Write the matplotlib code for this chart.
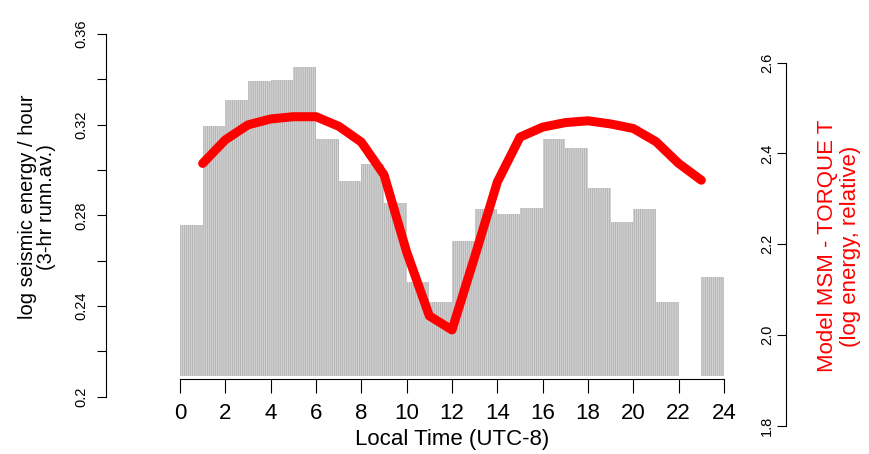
import numpy as np
import matplotlib
matplotlib.use("Agg")
import matplotlib.pyplot as plt
from matplotlib.ticker import FixedLocator

plt.rcParams['font.family'] = ['Liberation Sans', 'DejaVu Sans']
plt.rcParams['hatch.linewidth'] = 0.5
plt.rcParams['hatch.color'] = '#ababab'

# hourly seismic energy (3-hr running average), one bin per hour, 22-23 missing
hour_bins = np.arange(24)
energy = [0.2757, 0.3194, 0.3309, 0.3393, 0.3397, 0.3456, 0.3137, 0.2951,
          0.3026, 0.2853, 0.2507, 0.2418, 0.2687, 0.2827, 0.2806, 0.2832,
          0.3137, 0.3097, 0.2921, 0.2771, 0.2828, 0.2418, np.nan, 0.2528]

# modelled MSM torque (log energy, relative), hours 1..23
model_hours = np.arange(1, 24)
torque = [2.378, 2.430, 2.463, 2.476, 2.481, 2.481, 2.460, 2.425, 2.353,
          2.183, 2.042, 2.011, 2.172, 2.337, 2.436, 2.458, 2.468, 2.472,
          2.465, 2.455, 2.426, 2.378, 2.341]

x_ticks = np.arange(0, 25, 2)
left_ticks = [0.2, 0.24, 0.28, 0.32, 0.36]
left_labels = ['0.2', '0.24', '0.28', '0.32', '0.36']
right_ticks = [1.8, 2.0, 2.2, 2.4, 2.6]
right_labels = ['1.8', '2.0', '2.2', '2.4', '2.6']

W, H = 870, 454
BAR_BASE = 0.2091


def box(left, top, right, bottom):
    return [left / W, 1 - bottom / H, (right - left) / W, (bottom - top) / H]


fig = plt.figure(figsize=(W / 100, H / 100), dpi=100)

# --- bars on the left-hand scale ---
ax = fig.add_axes(box(180, 34, 724, 396.7))
ax.bar(hour_bins, np.array(energy) - BAR_BASE, bottom=BAR_BASE, width=1.0,
       align='edge', color='#d2d2d2', hatch='||||||||', linewidth=0)
ax.set_xlim(0, 24)
ax.set_ylim(0.2, 0.36)
ax.patch.set_visible(False)
for s in ('top', 'right'):
    ax.spines[s].set_visible(False)
ax.spines['left'].set_position(('outward', 53.3))
ax.spines['left'].set_bounds(0.2, 0.36)
ax.spines['bottom'].set_position(('outward', -12.7))
ax.spines['bottom'].set_bounds(0, 24)
for s in ('left', 'bottom'):
    ax.spines[s].set_linewidth(0.8)

ax.set_yticks(left_ticks)
ax.set_yticklabels(left_labels)
ax.yaxis.set_minor_locator(FixedLocator([0.22, 0.26, 0.30, 0.34]))
ax.tick_params(axis='y', which='both', length=6.7, width=0.8, labelsize=10.5, pad=6)
plt.setp(ax.get_yticklabels(), rotation=90, va='center')

ax.set_xticks(x_ticks)
ax.set_xticklabels([str(t) for t in x_ticks])
ax.tick_params(axis='x', length=10, width=0.8, labelsize=16, pad=7)

fig.text(37 / W, 1 - 207 / H, 'log seismic energy / hour\n(3-hr runn.av.)',
         rotation=90, ha='center', va='center', fontsize=14.5,
         multialignment='center', linespacing=1.05)
fig.text((180 + 724) / 2 / W, 1 - 440 / H, 'Local Time (UTC-8)',
         ha='center', va='center', fontsize=16)

# --- model curve on the right-hand scale ---
ax2 = fig.add_axes(box(180, 62.7, 724, 425.7))
ax2.patch.set_visible(False)
ax2.plot(model_hours, torque, color='red', linewidth=6.5,
         solid_capstyle='round', solid_joinstyle='round')
ax2.set_xlim(0, 24)
ax2.set_ylim(1.8, 2.6)
ax2.set_xticks([])
for s in ('top', 'right', 'bottom'):
    ax2.spines[s].set_visible(False)
ax2.spines['left'].set_position(('axes', (785.7 - 180) / 544))
ax2.spines['left'].set_linewidth(0.8)
ax2.set_yticks(right_ticks)
ax2.set_yticklabels(right_labels)
ax2.tick_params(axis='y', length=6.5, width=0.8, labelsize=10.5, pad=2)
plt.setp(ax2.get_yticklabels(), rotation=90, va='center')

fig.text(839 / W, 1 - 246 / H, 'Model MSM - TORQUE T\n(log energy, relative)',
         rotation=90, ha='center', va='center', fontsize=16, color='red',
         multialignment='center', linespacing=1.15)

fig.savefig('out.png', dpi=100)
